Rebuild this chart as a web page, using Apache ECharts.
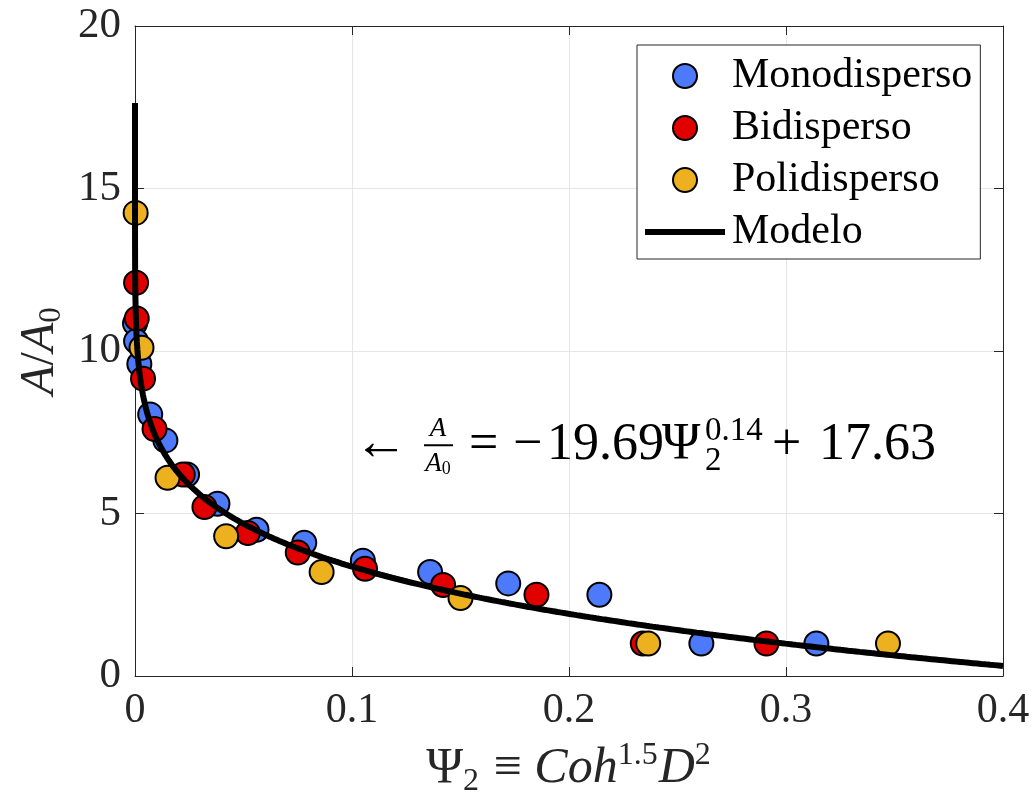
<!DOCTYPE html>
<html>
<head>
<meta charset="utf-8">
<script src="https://cdn.jsdelivr.net/npm/echarts@6/dist/echarts.min.js"></script>
<style>
  html, body { margin: 0; padding: 0; background: #ffffff; }
  #chart { width: 1034px; height: 794px; }
</style>
</head>
<body>
<div id="chart"></div>
<script>
// Measured points: [Psi_2, A/A0]
const monodisperso = [
  [0.0000, 10.85], [0.0005, 10.30], [0.0020, 9.60], [0.0070, 8.05], [0.0140, 7.25],
  [0.0240, 6.20], [0.0380, 5.30], [0.0560, 4.50], [0.0780, 4.10], [0.1050, 3.55],
  [0.1360, 3.20], [0.1720, 2.85], [0.2140, 2.50], [0.2610, 1.00], [0.3140, 1.00]
];
const bidisperso = [
  [0.0005, 12.10], [0.0008, 11.00], [0.0037, 9.15], [0.0090, 7.60], [0.0220, 6.20],
  [0.0320, 5.20], [0.0520, 4.40], [0.0750, 3.80], [0.1060, 3.30], [0.1420, 2.80],
  [0.1850, 2.50], [0.2340, 1.00], [0.2910, 1.00]
];
const polidisperso = [
  [0.0003, 14.25], [0.0030, 10.10], [0.0150, 6.10], [0.0420, 4.30], [0.0860, 3.20],
  [0.1500, 2.40], [0.2365, 1.00], [0.3470, 1.00]
];

// Fitted model A/A0 = a * Psi2^b + c
const modelA = -19.69;
const modelB = 0.14;
const modelC = 17.63;

const xTicks = [0, 0.1, 0.2, 0.3, 0.4];
const yTicks = [0, 5, 10, 15, 20];

const seriesNames = ['Monodisperso', 'Bidisperso', 'Polidisperso', 'Modelo'];
const seriesColors = ['#4d79fb', '#e00000', '#edb120', '#000000'];

// Model curve, sampled densely near the origin where it is steep
const modelCurve = [];
for (let i = 0; i <= 600; i++) {
  const x = xTicks[xTicks.length - 1] * Math.pow(i / 600, 3);
  modelCurve.push([x, modelA * Math.pow(x, modelB) + modelC]);
}

const FONT = 'Liberation Serif';
const INK = '#262626';

const chart = echarts.init(document.getElementById('chart'), null, { renderer: 'canvas' });

function scatter(name, data, color) {
  return {
    name: name,
    type: 'scatter',
    data: data,
    symbol: 'circle',
    symbolSize: 24,
    itemStyle: { color: color, borderColor: '#000000', borderWidth: 2, opacity: 1 },
    z: 2
  };
}

const axisCommon = {
  type: 'value',
  axisLine: { show: true, onZero: false, lineStyle: { color: INK, width: 1 } },
  axisTick: { show: true, inside: true, length: 9, lineStyle: { color: INK, width: 1 } }
};

const option = {
  backgroundColor: '#ffffff',
  animation: false,
  grid: { left: 135, right: 31, top: 26, bottom: 118, containLabel: false, outerBoundsMode: 'none' },
  legend: {
    orient: 'vertical',
    left: 637,
    top: 45,
    itemWidth: 80,
    itemHeight: 24,
    itemGap: 6,
    padding: [8, 8, 4, 8],
    borderColor: INK,
    borderWidth: 1,
    backgroundColor: '#ffffff',
    data: [
      seriesNames[0], seriesNames[1], seriesNames[2],
      { name: seriesNames[3], icon: 'path://M0,0 L80,0 L80,6 L0,6 Z', itemStyle: { color: '#000000', borderWidth: 0 } }
    ],
    textStyle: { fontFamily: FONT, fontSize: 42, color: '#000000', lineHeight: 46, padding: [0, 0, 0, 2] }
  },
  xAxis: [
    Object.assign({}, axisCommon, {
      min: xTicks[0], max: xTicks[xTicks.length - 1], interval: 0.1,
      position: 'bottom',
      axisLabel: {
        fontFamily: FONT, fontSize: 42, color: INK, margin: 14,
        formatter: v => String(+v.toFixed(1))
      },
      splitLine: { show: true, lineStyle: { color: '#e6e6e6', width: 1 } },
      name: '{a|Ψ}{sub|2}{a| ≡ }{i|Coh}{sup|1.5}{i|D}{sup|2}',
      nameLocation: 'middle',
      nameGap: 64,
      nameTextStyle: {
        rich: {
          a: { fontFamily: FONT, fontSize: 50, color: INK, lineHeight: 58, verticalAlign: 'middle' },
          i: { fontFamily: FONT, fontStyle: 'italic', fontSize: 50, color: INK, lineHeight: 58, verticalAlign: 'middle' },
          sub: { fontFamily: FONT, fontSize: 32, color: INK, lineHeight: 58, verticalAlign: 'bottom', padding: [0, 2, 0, 0] },
          sup: { fontFamily: FONT, fontSize: 32, color: INK, lineHeight: 58, verticalAlign: 'top', padding: [0, 1, 0, 0] }
        }
      }
    }),
    Object.assign({}, axisCommon, {
      min: xTicks[0], max: xTicks[xTicks.length - 1], interval: 0.1,
      position: 'top',
      axisLabel: { show: false },
      splitLine: { show: false }
    })
  ],
  yAxis: [
    Object.assign({}, axisCommon, {
      min: yTicks[0], max: yTicks[yTicks.length - 1], interval: 5,
      position: 'left',
      axisLabel: { fontFamily: FONT, fontSize: 43, color: INK, margin: 14 },
      splitLine: { show: true, lineStyle: { color: '#e6e6e6', width: 1 } },
      name: '{i|A}{a|/}{i|A}{sub|0}',
      nameLocation: 'middle',
      nameRotate: 90,
      nameGap: 64,
      nameTextStyle: {
        rich: {
          a: { fontFamily: FONT, fontSize: 48, color: INK, lineHeight: 54, verticalAlign: 'middle' },
          i: { fontFamily: FONT, fontStyle: 'italic', fontSize: 48, color: INK, lineHeight: 54, verticalAlign: 'middle' },
          sub: { fontFamily: FONT, fontSize: 31, color: INK, lineHeight: 54, verticalAlign: 'bottom' }
        }
      }
    }),
    Object.assign({}, axisCommon, {
      min: yTicks[0], max: yTicks[yTicks.length - 1], interval: 5,
      position: 'right',
      axisLabel: { show: false },
      splitLine: { show: false }
    })
  ],
  series: [
    scatter(seriesNames[0], monodisperso, seriesColors[0]),
    scatter(seriesNames[1], bidisperso, seriesColors[1]),
    scatter(seriesNames[2], polidisperso, seriesColors[2]),
    {
      name: seriesNames[3],
      type: 'line',
      data: modelCurve,
      showSymbol: false,
      symbol: 'none',
      smooth: false,
      lineStyle: { color: seriesColors[3], width: 6 },
      itemStyle: { color: seriesColors[3] },
      z: 4
    }
  ]
};

chart.setOption(option);

// Equation of the model, anchored at a data position next to the curve
const anchor = chart.convertToPixel({ xAxisIndex: 0, yAxisIndex: 0 }, [0.1, 7.1]);
const ax = anchor[0];
const ay = anchor[1];
const fmt = v => v.toFixed(2);
function eqText(dx, dy, text, size, extra) {
  return {
    type: 'text', x: ax + dx, y: ay + dy, z: 10,
    style: Object.assign({
      text: text, fontFamily: FONT, fontSize: size, fill: '#000000',
      verticalAlign: 'middle', align: 'left'
    }, extra || {})
  };
}
chart.setOption({
  graphic: [
    eqText(2, 0, '←', 54),
    eqText(86, -16, 'A', 27, { fontStyle: 'italic', align: 'center' }),
    { type: 'rect', z: 10, shape: { x: ax + 72, y: ay - 1, width: 29, height: 2 }, style: { fill: '#000000' } },
    {
      type: 'text', x: ax + 86, y: ay + 19, z: 10,
      style: {
        text: '{i|A}{s|0}', verticalAlign: 'middle', align: 'center',
        rich: {
          i: { fontFamily: FONT, fontStyle: 'italic', fontSize: 27, fill: '#000' },
          s: { fontFamily: FONT, fontSize: 18, fill: '#000', padding: [10, 0, 0, 0] }
        }
      }
    },
    eqText(117, 0, '=', 52),
    eqText(161, 0, '−', 52),
    eqText(195, 0, fmt(-modelA), 52),
    eqText(310, 0, 'Ψ', 52),
    eqText(353, -14, String(modelB), 33),
    eqText(353, 16, '2', 33),
    eqText(420, 0, '+', 52),
    eqText(467, 0, fmt(modelC), 52)
  ]
});
</script>
</body>
</html>
